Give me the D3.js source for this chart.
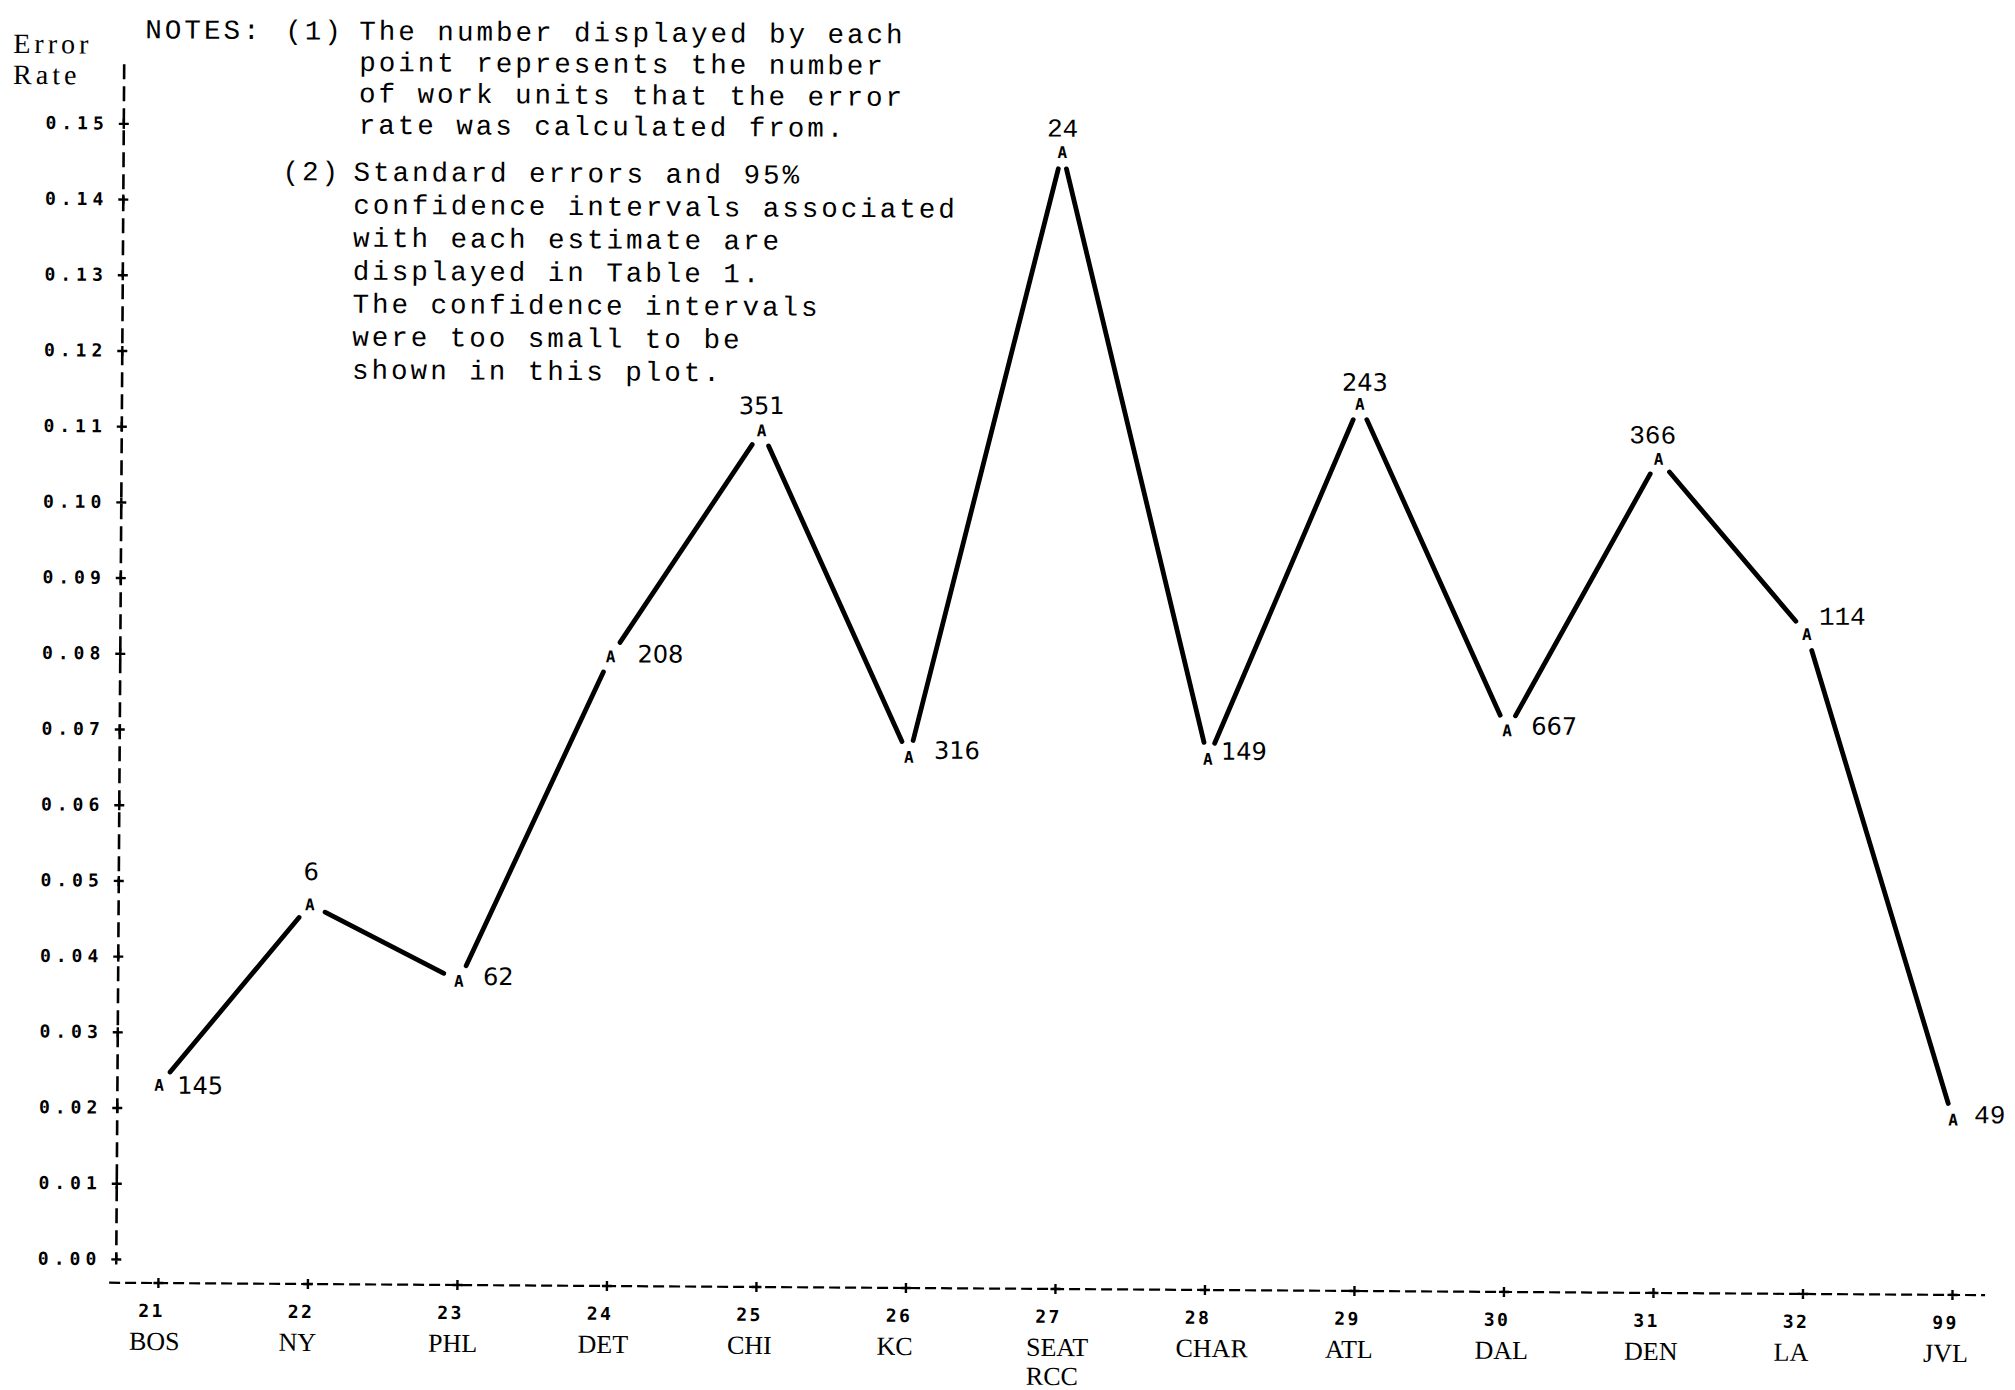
<!DOCTYPE html>
<html>
<head>
<meta charset="utf-8">
<script src="https://cdn.jsdelivr.net/npm/d3@7"></script>
<style>
  html, body { margin: 0; padding: 0; background: #fff; }
  svg { display: block; }
</style>
</head>
<body>
<script>
// Site codes and office names along the horizontal axis
const siteCodes = ["21", "22", "23", "24", "25", "26", "27", "28", "29", "30", "31", "32", "99"];
const siteNames = ["BOS", "NY", "PHL", "DET", "CHI", "KC", "SEAT RCC", "CHAR", "ATL", "DAL", "DEN", "LA", "JVL"];

// Estimated error rate for each site
const errorRates = [0.023, 0.047, 0.037, 0.080, 0.110, 0.067, 0.147, 0.067, 0.114, 0.071, 0.107, 0.084, 0.020];

// Number of work units each rate was calculated from
const workUnits = [145, 6, 62, 208, 351, 316, 24, 149, 243, 667, 366, 114, 49];

// Vertical axis tick values
const rateTicks = [0.00, 0.01, 0.02, 0.03, 0.04, 0.05, 0.06, 0.07, 0.08, 0.09, 0.10, 0.11, 0.12, 0.13, 0.14, 0.15];

// Axis title and notes
const axisTitle = ["Error", "Rate"];
const notesHead = "NOTES:";
const noteMarks = ["(1)", "(2)"];
const noteOne = [
  "The number displayed by each",
  "point represents the number",
  "of work units that the error",
  "rate was calculated from."
];
const noteTwo = [
  "Standard errors and 95%",
  "confidence intervals associated",
  "with each estimate are",
  "displayed  in Table 1.",
  "The confidence intervals",
  "were too small to be",
  "shown in this plot."
];

// ---- layout -------------------------------------------------------------
const W = 2015, H = 1390;
const axisX = 120, axisTop = 70, baseY = 1288.6;
const xLeft = 113, xRight = 1989;

// where each count sits relative to its point marker
const countPlacement = [
  { dx: 18, dy: 0,   anchor: "start",  mono: false },
  { dx: 1,  dy: -33, anchor: "middle", mono: false },
  { dx: 24, dy: -5,  anchor: "start",  mono: false },
  { dx: 27, dy: -3,  anchor: "start",  mono: false },
  { dx: 0,  dy: -25, anchor: "middle", mono: false },
  { dx: 25, dy: -7,  anchor: "start",  mono: false },
  { dx: 0,  dy: -25, anchor: "middle", mono: true  },
  { dx: 13, dy: -8,  anchor: "start",  mono: false },
  { dx: 5,  dy: -22, anchor: "middle", mono: false },
  { dx: 24, dy: -5,  anchor: "start",  mono: false },
  { dx: -6, dy: -25, anchor: "middle", mono: true  },
  { dx: 12, dy: -19, anchor: "start",  mono: true  },
  { dx: 21, dy: -6,  anchor: "start",  mono: true  }
];

const x = d3.scalePoint().domain(siteCodes).range([161.8, 1955.9]);
const y = d3.scaleLinear().domain([0, 0.15]).range([1264.8, 129.2]);

const svg = d3.select("body").append("svg")
  .attr("width", W).attr("height", H)
  .attr("viewBox", `0 0 ${W} ${H}`);

svg.append("rect").attr("width", W).attr("height", H).attr("fill", "#fff");

// the whole printout sits very slightly askew on the page
const root = svg.append("g").attr("transform", "rotate(0.38 1000 700)");

const monoFont = "'Liberation Mono', 'DejaVu Sans Mono', monospace";
const dotFont = "'DejaVu Sans Mono', monospace";
const serifFont = "'Liberation Serif', 'DejaVu Serif', serif";
const sansFont = "'DejaVu Sans', sans-serif";

// ---- axis title ---------------------------------------------------------
root.append("g").selectAll("text").data(axisTitle).join("text")
  .attr("x", 9)
  .attr("y", (d, i) => 59.5 + i * 31)
  .attr("font-family", serifFont)
  .attr("font-size", 28)
  .attr("letter-spacing", 4)
  .attr("fill", "#000")
  .text(d => d);

// ---- notes --------------------------------------------------------------
const notes = root.append("g")
  .attr("font-family", monoFont)
  .attr("font-size", 27.5)
  .attr("letter-spacing", 3.0)
  .attr("fill", "#000")
  .style("white-space", "pre");

notes.append("text").attr("x", 141).attr("y", 44).text(notesHead);
notes.append("text").attr("x", 281).attr("y", 44).text(noteMarks[0]);
notes.append("text").attr("x", 279).attr("y", 185).text(noteMarks[1]);
notes.selectAll("text.n1").data(noteOne).join("text")
  .attr("class", "n1")
  .attr("x", 355)
  .attr("y", (d, i) => 44 + i * 31.3)
  .text(d => d);
notes.selectAll("text.n2").data(noteTwo).join("text")
  .attr("class", "n2")
  .attr("x", 350)
  .attr("y", (d, i) => 185 + i * 33)
  .text(d => d);

// ---- vertical axis ------------------------------------------------------
root.append("line")
  .attr("x1", axisX).attr("x2", axisX)
  .attr("y1", axisTop).attr("y2", y(0))
  .attr("stroke", "#000").attr("stroke-width", 2.6)
  .attr("stroke-dasharray", "15,7");

const yAxis = d3.axisLeft(y)
  .tickValues(rateTicks)
  .tickFormat(d3.format(".2f"))
  .tickSize(0)
  .tickPadding(15);

const gy = root.append("g").attr("transform", `translate(${axisX},0)`).call(yAxis);
gy.select(".domain").remove();
gy.selectAll(".tick text")
  .attr("font-family", dotFont)
  .attr("font-weight", "bold")
  .attr("font-size", 18)
  .attr("letter-spacing", 5)
  .attr("fill", "#000");
gy.selectAll(".tick").append("path")
  .attr("d", "M-5,0H5M0,-5V5")
  .attr("stroke", "#000").attr("stroke-width", 2.4);

// ---- horizontal axis ----------------------------------------------------
root.append("line")
  .attr("x1", xLeft).attr("x2", xRight)
  .attr("y1", baseY).attr("y2", baseY)
  .attr("stroke", "#000").attr("stroke-width", 2.2)
  .attr("stroke-dasharray", "11,5");

const xAxis = d3.axisBottom(x).tickSize(0).tickPadding(0);
const gx = root.append("g").attr("transform", `translate(0,${baseY})`).call(xAxis);
gx.select(".domain").remove();
gx.selectAll(".tick text")
  .attr("text-anchor", "start")
  .attr("x", -20)
  .attr("y", 34)
  .attr("dy", null)
  .attr("font-family", dotFont)
  .attr("font-weight", "bold")
  .attr("font-size", 18)
  .attr("letter-spacing", 2.5)
  .attr("fill", "#000");
gx.selectAll(".tick").append("path")
  .attr("d", "M-5,0H5M0,-5V5")
  .attr("stroke", "#000").attr("stroke-width", 2.4);
gx.selectAll(".tick").each(function(code) {
  const lines = siteNames[siteCodes.indexOf(code)].split(" ");
  d3.select(this).selectAll("text.site").data(lines).join("text")
    .attr("class", "site")
    .attr("x", -29)
    .attr("y", (d, k) => 67 + k * 29)
    .attr("text-anchor", "start")
    .attr("font-family", serifFont)
    .attr("font-size", 26)
    .attr("fill", "#000")
    .text(d => d);
});

// ---- connecting line, stopped short of each marker ----------------------
const pts = siteCodes.map((c, i) => [x(c), y(errorRates[i])]);
const gap = 17;
const segs = d3.pairs(pts).map(([a, b]) => {
  const dx = b[0] - a[0], dy = b[1] - a[1];
  const len = Math.hypot(dx, dy);
  const ux = dx / len, uy = dy / len;
  return [[a[0] + ux * gap, a[1] + uy * gap], [b[0] - ux * gap, b[1] - uy * gap]];
});
root.append("g").selectAll("path").data(segs).join("path")
  .attr("d", d => d3.line()(d))
  .attr("fill", "none")
  .attr("stroke", "#000")
  .attr("stroke-width", 4.8)
  .attr("stroke-linecap", "round");

// ---- point markers ------------------------------------------------------
root.append("g").selectAll("text").data(errorRates).join("text")
  .attr("x", (d, i) => x(siteCodes[i]))
  .attr("y", d => y(d))
  .attr("dy", "0.36em")
  .attr("text-anchor", "middle")
  .attr("font-family", dotFont)
  .attr("font-weight", "bold")
  .attr("font-size", 16)
  .attr("fill", "#000")
  .text("A");

// ---- work-unit counts ---------------------------------------------------
root.append("g").selectAll("text").data(workUnits).join("text")
  .attr("x", (d, i) => x(siteCodes[i]) + countPlacement[i].dx)
  .attr("y", (d, i) => y(errorRates[i]) + countPlacement[i].dy)
  .attr("dy", "0.36em")
  .attr("text-anchor", (d, i) => countPlacement[i].anchor)
  .attr("font-family", (d, i) => countPlacement[i].mono ? monoFont : sansFont)
  .attr("font-size", (d, i) => countPlacement[i].mono ? 26 : 24)
  .attr("fill", "#000")
  .text(d => d);
</script>
</body>
</html>
